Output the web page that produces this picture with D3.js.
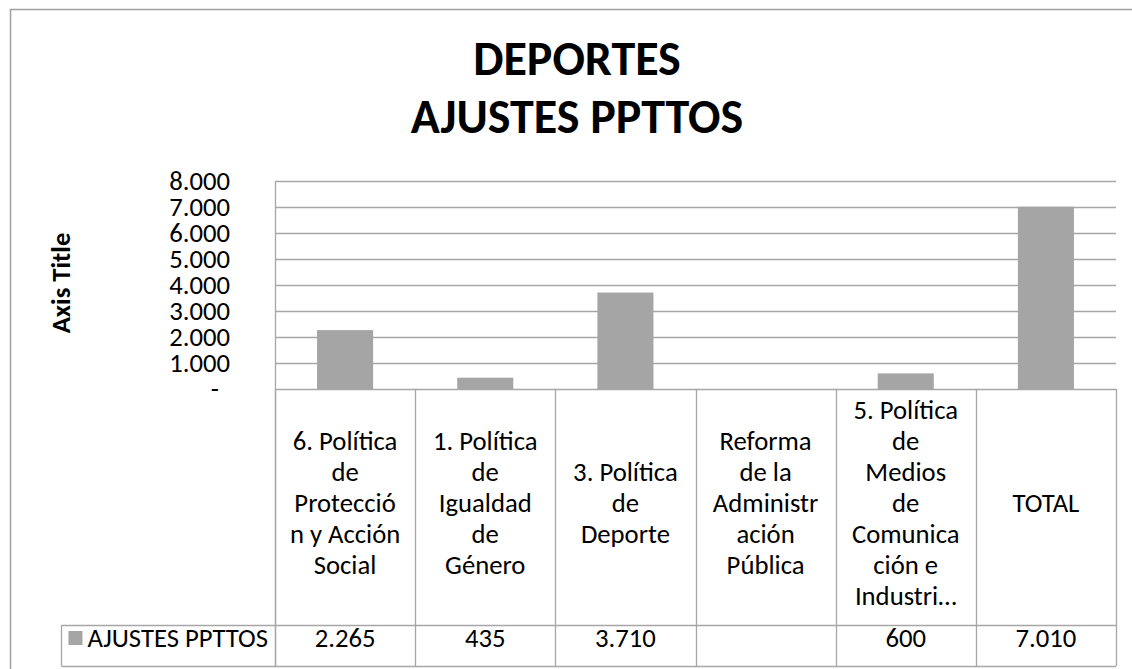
<!DOCTYPE html>
<html>
<head>
<meta charset="utf-8">
<script src="https://cdn.jsdelivr.net/npm/d3@7"></script>
<style>
  body { margin: 0; background: #fff; }
  svg { display: block; font-family: Carlito, Calibri, Lato, sans-serif; }
</style>
</head>
<body>
<div id="chart"></div>
<script>
const width = 1132,
  height = 669;

// chart data
const titleLines = ["DEPORTES", "AJUSTES PPTTOS"];
const seriesName = "AJUSTES PPTTOS";
const categories = [
  "6. Política de Protección y Acción Social",
  "1. Política de Igualdad de Género",
  "3. Política de Deporte",
  "Reforma de la Administración Pública",
  "5. Política de Medios de Comunicación e Industri…",
  "TOTAL"
];
// category labels as they wrap in the table header
const categoryLines = [
  ["6. Política", "de", "Protecció", "n y Acción", "Social"],
  ["1. Política", "de", "Igualdad", "de", "Género"],
  ["3. Política", "de", "Deporte"],
  ["Reforma", "de la", "Administr", "ación", "Pública"],
  ["5. Política", "de", "Medios", "de", "Comunica", "ción e", "Industri…"],
  ["TOTAL"]
];
const values = [2265, 435, 3710, null, 600, 7010];
const yTicks = [0, 1000, 2000, 3000, 4000, 5000, 6000, 7000, 8000];

const plot = { left: 275, right: 1116, top: 181, bottom: 389 };
const table = { headBottom: 625, bottom: 666 };

const es = d3.formatLocale({ decimal: ",", thousands: ".", grouping: [3], currency: ["", "€"] });
const fmt = es.format(",.0f");

const gridColor = "#a6a6a6",
  barColor = "#a5a5a5",
  textColor = "#000",
  labelSize = "26.7px";

const svg = d3.select("#chart").append("svg")
  .attr("width", width)
  .attr("height", height);

// chart frame
svg.append("rect")
  .attr("x", 10.5).attr("y", 9.5)
  .attr("width", 1300).attr("height", 800)
  .attr("fill", "#fff")
  .attr("stroke", "#a0a0a0")
  .attr("stroke-width", 1.5);

// title
svg.append("text")
  .attr("text-anchor", "middle")
  .style("font-weight", "bold")
  .style("font-size", "48px")
  .attr("fill", textColor)
  .selectAll("tspan")
  .data(titleLines)
  .enter().append("tspan")
    .attr("x", 577)
    .attr("y", function(d, i) { return 75 + i * 58; })
    .text(function(d) { return d; });

var x = d3.scaleBand()
  .domain(categories)
  .range([plot.left, plot.right])
  .paddingInner(0).paddingOuter(0);

var y = d3.scaleLinear()
  .domain([0, 8000])
  .range([plot.bottom, plot.top]);

// gridlines
svg.append("g")
  .selectAll("line")
  .data(yTicks)
  .enter().append("line")
    .attr("x1", plot.left).attr("x2", plot.right)
    .attr("y1", function(d) { return Math.round(y(d)) + 0.5; })
    .attr("y2", function(d) { return Math.round(y(d)) + 0.5; })
    .attr("stroke", gridColor)
    .attr("stroke-width", 1.3);

// plot left edge
svg.append("line")
  .attr("x1", plot.left + 0.5).attr("x2", plot.left + 0.5)
  .attr("y1", plot.top).attr("y2", table.bottom)
  .attr("stroke", gridColor).attr("stroke-width", 1.3);

// y tick labels
svg.append("g")
  .style("font-size", labelSize)
  .attr("fill", textColor)
  .selectAll("text")
  .data(yTicks)
  .enter().append("text")
    .attr("x", function(d) { return d === 0 ? 219 : 230; })
    .attr("y", function(d) { return y(d) + 8.5; })
    .attr("text-anchor", "end")
    .text(function(d) { return d === 0 ? "-" : fmt(d); });

// axis title
svg.append("text")
  .attr("transform", "translate(70," + ((plot.top + plot.bottom) / 2 - 2) + ") rotate(-90)")
  .attr("text-anchor", "middle")
  .style("font-weight", "bold")
  .style("font-size", labelSize)
  .attr("fill", textColor)
  .text("Axis Title");

// bars
var barW = x.bandwidth() * 0.4;
svg.append("g")
  .selectAll("rect")
  .data(categories.map(function(c, i) { return { cat: c, value: values[i] }; })
    .filter(function(d) { return d.value != null; }))
  .enter().append("rect")
    .attr("x", function(d) { return x(d.cat) + (x.bandwidth() - barW) / 2; })
    .attr("y", function(d) { return y(d.value); })
    .attr("width", barW)
    .attr("height", function(d) { return y(0) - y(d.value); })
    .attr("fill", barColor);

// data table
var tbl = svg.append("g");
var edges = categories.map(function(c) { return x(c); }).concat([plot.right]);

tbl.selectAll("line.v")
  .data(edges)
  .enter().append("line")
    .attr("class", "v")
    .attr("x1", function(d) { return Math.round(d) + 0.5; })
    .attr("x2", function(d) { return Math.round(d) + 0.5; })
    .attr("y1", plot.bottom).attr("y2", table.bottom)
    .attr("stroke", gridColor).attr("stroke-width", 1.3);

// header labels
var lineH = 31;
tbl.selectAll("text.cat")
  .data(categoryLines)
  .enter().append("text")
    .attr("class", "cat")
    .attr("text-anchor", "middle")
    .style("font-size", labelSize)
    .attr("fill", textColor)
    .each(function(lines, i) {
      var cx = x(categories[i]) + x.bandwidth() / 2;
      var mid = (lines.length - 1) / 2;
      d3.select(this).selectAll("tspan")
        .data(lines)
        .enter().append("tspan")
          .attr("x", cx)
          .attr("y", function(d, j) { return 512 + (j - mid) * lineH; })
          .text(function(d) { return d; });
    });

// value row
tbl.selectAll("text.val")
  .data(values)
  .enter().append("text")
    .attr("class", "val")
    .attr("x", function(d, i) { return x(categories[i]) + x.bandwidth() / 2; })
    .attr("y", 647)
    .attr("text-anchor", "middle")
    .style("font-size", labelSize)
    .attr("fill", textColor)
    .text(function(d) { return d == null ? "" : fmt(d); });

// legend cell
var legText = tbl.append("text")
  .attr("x", 268)
  .attr("y", 647)
  .attr("text-anchor", "end")
  .style("font-size", labelSize)
  .attr("fill", textColor)
  .text(seriesName);
var tw = legText.node().getComputedTextLength();
var sqX = 268 - tw - 19;
tbl.append("rect")
  .attr("x", sqX).attr("y", 631)
  .attr("width", 14).attr("height", 14)
  .attr("fill", barColor);
var cellLeft = Math.round(sqX - 7) + 0.5;

tbl.append("line")
  .attr("x1", cellLeft).attr("x2", cellLeft)
  .attr("y1", table.headBottom).attr("y2", table.bottom)
  .attr("stroke", gridColor).attr("stroke-width", 1.3);

tbl.selectAll("line.h")
  .data([table.headBottom, table.bottom])
  .enter().append("line")
    .attr("class", "h")
    .attr("x1", cellLeft).attr("x2", plot.right)
    .attr("y1", function(d) { return d + 0.5; })
    .attr("y2", function(d) { return d + 0.5; })
    .attr("stroke", gridColor).attr("stroke-width", 1.3);
</script>
</body>
</html>
